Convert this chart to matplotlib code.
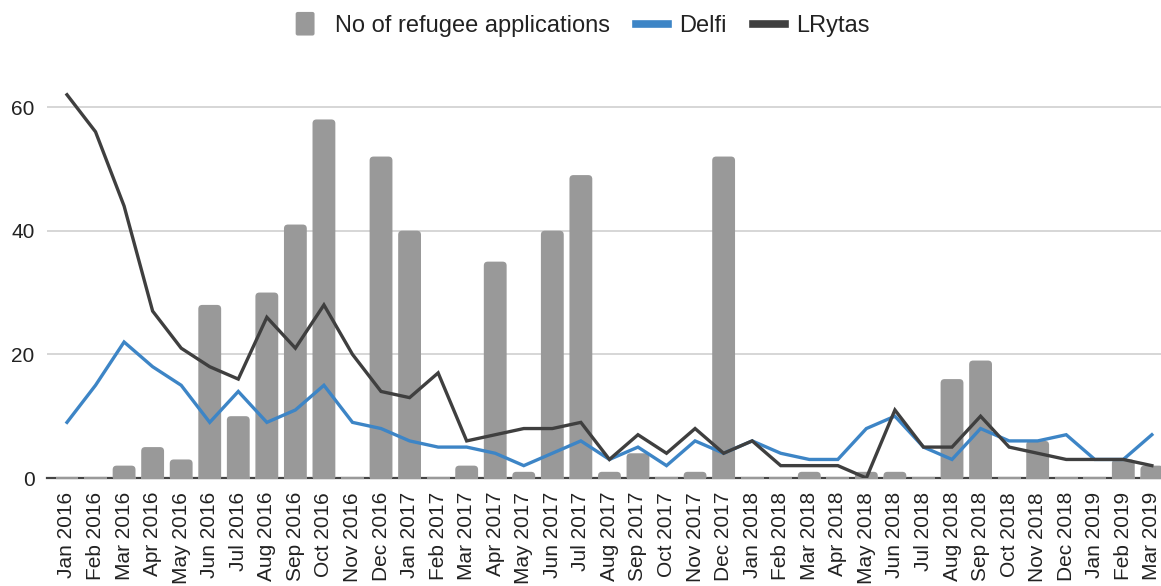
import matplotlib
matplotlib.use("Agg")
import matplotlib.pyplot as plt
import numpy as np
from matplotlib.patches import Patch, FancyBboxPatch, Rectangle
from matplotlib.lines import Line2D
from matplotlib.legend_handler import HandlerPatch

plt.rcParams['font.family'] = ['Liberation Sans', 'DejaVu Sans']

months = ["Jan 2016", "Feb 2016", "Mar 2016", "Apr 2016", "May 2016", "Jun 2016",
          "Jul 2016", "Aug 2016", "Sep 2016", "Oct 2016", "Nov 2016", "Dec 2016",
          "Jan 2017", "Feb 2017", "Mar 2017", "Apr 2017", "May 2017", "Jun 2017",
          "Jul 2017", "Aug 2017", "Sep 2017", "Oct 2017", "Nov 2017", "Dec 2017",
          "Jan 2018", "Feb 2018", "Mar 2018", "Apr 2018", "May 2018", "Jun 2018",
          "Jul 2018", "Aug 2018", "Sep 2018", "Oct 2018", "Nov 2018", "Dec 2018",
          "Jan 2019", "Feb 2019", "Mar 2019"]

applications = [0, 0, 2, 5, 3, 28, 10, 30, 41, 58, 0, 52,
                40, 0, 2, 35, 1, 40, 49, 1, 4, 0, 1, 52,
                0, 0, 1, 0, 1, 1, 0, 16, 19, 0, 6, 0,
                0, 3, 2]

delfi = [9, 15, 22, 18, 15, 9, 14, 9, 11, 15, 9, 8,
         6, 5, 5, 4, 2, 4, 6, 3, 5, 2, 6, 4,
         6, 4, 3, 3, 8, 10, 5, 3, 8, 6, 6, 7,
         3, 3, 7]

lrytas = [62, 56, 44, 27, 21, 18, 16, 26, 21, 28, 20, 14,
          13, 17, 6, 7, 8, 8, 9, 3, 7, 4, 8, 4,
          6, 2, 2, 2, 0, 11, 5, 5, 10, 5, 4, 3,
          3, 3, 2]

yticks = [0, 20, 40, 60]

W, H = 1161, 586
fig = plt.figure(figsize=(W / 100, H / 100), dpi=100)
ax_left, ax_bottom_px, ax_top_px = 47, 478, 70
ax = fig.add_axes([ax_left / W, 1 - ax_bottom_px / H, 1 - ax_left / W,
                   (ax_bottom_px - ax_top_px) / H])

x = np.arange(len(months))
ax.set_xlim(-0.70, 38.32)
ax.set_ylim(0, 66)

BAR_C = '#999999'
BLUE = '#3d85c6'
DARK = '#3f3f3f'

# gridlines and baseline
for t in yticks[1:]:
    ax.axhline(t, color='#d0d0d0', lw=1.2, zorder=0)
ax.axhline(0, color='#444444', lw=1.6, zorder=1, clip_on=False)

# bars (rounded tops), derived from library bars
bars = ax.bar(x, applications, width=0.8, color=BAR_C, zorder=2)
fig.canvas.draw()
px_x = ax.transData.transform((1, 0))[0] - ax.transData.transform((0, 0))[0]
px_y = ax.transData.transform((0, 1))[1] - ax.transData.transform((0, 0))[1]
aspect = px_x / px_y
r = 4.0 / px_x  # rounding in x units
clip_rect = Rectangle((-0.70, 0), 40, 70, transform=ax.transData)
for b in bars:
    h = b.get_height()
    if h > 0:
        b.set_visible(False)
        bx, bw = b.get_x(), b.get_width()
        extra = r * aspect
        fp = FancyBboxPatch((bx, -extra), bw, h + extra,
                            boxstyle=f"round,pad=0,rounding_size={r}",
                            mutation_aspect=aspect,
                            facecolor=BAR_C, edgecolor='none', zorder=2)
        ax.add_patch(fp)
        fp.set_clip_path(clip_rect)
# zero-level segments under each category
ax.bar(x, np.zeros(len(x)), width=0.8, color=BAR_C, edgecolor=BAR_C,
       lw=1.6, zorder=2, clip_on=False)

ax.plot(x, delfi, color=BLUE, lw=2.4, zorder=4, solid_joinstyle='miter')
ax.plot(x, lrytas, color=DARK, lw=2.4, zorder=5, solid_joinstyle='miter')

ax.set_yticks(yticks)
ax.set_yticklabels([str(v) for v in yticks], fontsize=15, color='#222222')
ax.set_xticks(x)
ax.set_xticklabels(months, rotation=90, fontsize=15, color='#222222',
                   va='top', ha='center')
ax.tick_params(axis='both', length=0)
ax.tick_params(axis='y', pad=9)
ax.tick_params(axis='x', pad=10)
for s in ax.spines.values():
    s.set_visible(False)


def make_square(legend, orig_handle, xdescent, ydescent, width, height, fontsize):
    w = 0.8 * fontsize
    hgt = 1.0 * fontsize
    return FancyBboxPatch((-xdescent + width - w - 6, -ydescent + height / 2 - hgt / 2),
                          w, hgt, boxstyle="round,pad=0,rounding_size=1.5")


handles = [Patch(facecolor=BAR_C, edgecolor='none'),
           Line2D([], [], color=BLUE, lw=5.5),
           Line2D([], [], color=DARK, lw=5.5)]
labels = ["No of refugee applications", "Delfi", "LRytas"]
fig.legend(handles, labels, loc='center', bbox_to_anchor=(0.5, 1 - 26 / H),
           ncol=3, frameon=False, fontsize=17, handlelength=1.35,
           handletextpad=0.5, columnspacing=1.1, labelcolor='#222222',
           handler_map={Patch: HandlerPatch(patch_func=make_square)})

fig.savefig('out.png', dpi=100)
